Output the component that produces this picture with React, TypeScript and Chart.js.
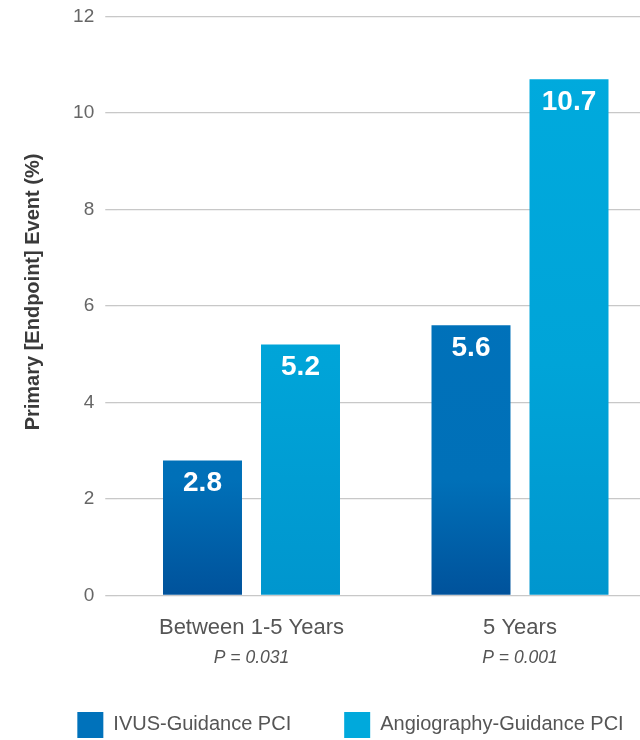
import React, { useEffect, useRef } from "react";
import { Chart, registerables } from "chart.js";

Chart.register(...registerables);

const categories = ["Between 1-5 Years", "5 Years"];
const pValues = ["P = 0.031", "P = 0.001"];
const seriesLabels = ["IVUS-Guidance PCI", "Angiography-Guidance PCI"];
const ivusValues = [2.8, 5.6];
const angioValues = [5.2, 10.7];
const yMin = 0;
const yMax = 12;
const yStep = 2;
const yTitle = "Primary [Endpoint] Event (%)";

const FONT = "'Liberation Sans', Arial, Helvetica, sans-serif";
const legendColors = ["#0072bb", "#00a9dc"];

function ivusFill(ctx: any) {
  const chart = ctx.chart;
  const area = chart.chartArea;
  if (!area) return legendColors[0];
  const g = chart.ctx.createLinearGradient(0, area.top, 0, area.bottom);
  g.addColorStop(0, "#0074bd");
  g.addColorStop(0.8, "#0070b8");
  g.addColorStop(1, "#00529b");
  return g;
}

function angioFill(ctx: any) {
  const chart = ctx.chart;
  const area = chart.chartArea;
  if (!area) return legendColors[1];
  const g = chart.ctx.createLinearGradient(0, area.top, 0, area.bottom);
  g.addColorStop(0, "#00abde");
  g.addColorStop(0.6, "#00a4d8");
  g.addColorStop(1, "#0096ce");
  return g;
}

const overlayPlugin = {
  id: "overlay",
  afterDatasetsDraw(chart: any) {
    const c = chart.ctx;
    c.save();
    // value labels inside the bars
    c.fillStyle = "#ffffff";
    c.font = `bold 28px ${FONT}`;
    c.textAlign = "center";
    c.textBaseline = "middle";
    chart.data.datasets.forEach((ds: any, di: number) => {
      const meta = chart.getDatasetMeta(di);
      meta.data.forEach((bar: any, i: number) => {
        c.fillText(String(ds.data[i]), bar.x, bar.y + 23);
      });
    });
    // P-values under the category labels
    const xs = chart.scales.x;
    c.fillStyle = "#555555";
    c.font = `italic 17.5px ${FONT}`;
    pValues.forEach((p, i) => {
      c.fillText(p, xs.getPixelForValue(i), 658);
    });
    // y axis title
    c.save();
    c.translate(33, 292);
    c.rotate(-Math.PI / 2);
    c.fillStyle = "#3a3a3a";
    c.font = `bold 20px ${FONT}`;
    c.fillText(yTitle, 0, 0);
    c.restore();
    // legend
    c.font = `20px ${FONT}`;
    c.textAlign = "left";
    const box = 26;
    const gap = 10;
    const spacing = 53;
    const widths = chart.data.datasets.map(
      (ds: any) => box + gap + c.measureText(ds.label).width
    );
    const total =
      widths.reduce((a: number, b: number) => a + b, 0) + spacing * (widths.length - 1);
    let x = 350.5 - total / 2;
    const cy = 725;
    chart.data.datasets.forEach((ds: any, di: number) => {
      c.fillStyle = legendColors[di];
      c.fillRect(x, cy - box / 2, box, box);
      c.fillStyle = "#555555";
      c.fillText(ds.label, x + box + gap, cy - 1);
      x += widths[di] + spacing;
    });
    c.restore();
  },
};

export default function App() {
  const ref = useRef<HTMLCanvasElement | null>(null);
  useEffect(() => {
    if (!ref.current) return;
    const chart = new Chart(ref.current, {
      type: "bar",
      data: {
        labels: categories,
        datasets: [
          {
            label: seriesLabels[0],
            data: ivusValues,
            backgroundColor: ivusFill,
            borderWidth: 0,
            categoryPercentage: 0.73,
            barPercentage: 0.806,
          },
          {
            label: seriesLabels[1],
            data: angioValues,
            backgroundColor: angioFill,
            borderWidth: 0,
            categoryPercentage: 0.73,
            barPercentage: 0.806,
          },
        ],
      },
      options: {
        animation: false,
        responsive: false,
        devicePixelRatio: 1,
        layout: { padding: { top: 16.5, right: 5.75, bottom: 0, left: 0 } },
        plugins: {
          legend: { display: false },
          tooltip: { enabled: false },
        },
        scales: {
          x: {
            grid: { display: false, drawTicks: false },
            border: { display: false },
            ticks: {
              color: "#555555",
              font: { family: FONT, size: 22 },
              padding: 19,
              maxRotation: 0,
            },
            afterFit: (scale: any) => {
              scale.height = 144.5;
            },
          },
          y: {
            min: yMin,
            max: yMax,
            border: { display: false },
            grid: {
              color: "#c8c8c8",
              lineWidth: 1.3,
              drawTicks: true,
              tickLength: 12,
              tickColor: "#c8c8c8",
            },
            ticks: {
              stepSize: yStep,
              color: "#666666",
              font: { family: FONT, size: 19 },
              padding: 11,
            },
            title: { display: false, text: yTitle },
            afterFit: (scale: any) => {
              scale.width = 117.25;
              scale.paddingTop = 0;
              scale.paddingBottom = 0;
            },
          },
        },
      },
      plugins: [overlayPlugin],
    });
    return () => chart.destroy();
  }, []);

  return (
    <div
      style={{
        position: "fixed",
        left: 0,
        top: 0,
        width: 640,
        height: 740,
        overflow: "hidden",
        background: "#ffffff",
      }}
    >
      <canvas ref={ref} width={660} height={740} style={{ display: "block" }} />
    </div>
  );
}
